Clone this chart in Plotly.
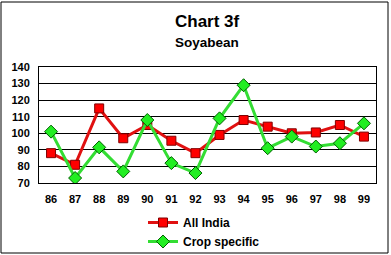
import plotly.graph_objects as go

years = ["86", "87", "88", "89", "90", "91", "92", "93", "94", "95", "96", "97", "98", "99"]
all_india = [88, 81, 115, 97, 105, 95.5, 88, 99, 108, 104, 100, 100.5, 105, 98]
crop_specific = [101, 73, 91.5, 77, 108, 82, 76, 109, 129, 91, 98, 92, 94, 106]
y_ticks = [70, 80, 90, 100, 110, 120, 130, 140]

W, H = 391, 255
L, R, T, B = 39, 15, 67, 72
pw, ph = W - L - R, H - T - B
FONT = "Liberation Sans, Arial"

fig = go.Figure()
fig.add_trace(go.Scatter(
    x=years, y=all_india, name="All India", mode="lines+markers",
    line=dict(color="#e01010", width=3),
    marker=dict(symbol="square", size=9, color="#ff0000", line=dict(color="#800000", width=1)),
))
fig.add_trace(go.Scatter(
    x=years, y=crop_specific, name="Crop specific", mode="lines+markers",
    line=dict(color="#33dd33", width=3),
    marker=dict(symbol="diamond", size=10, color="#22ee22", line=dict(color="#006000", width=1)),
))

def px_x(x):
    return (x - L) / pw

def px_y(y):
    return (H - B - y) / ph

# outer border
fig.add_shape(type="rect", xref="paper", yref="paper",
              x0=px_x(1), x1=px_x(388), y0=px_y(253), y1=px_y(2),
              line=dict(color="black", width=1), fillcolor="rgba(0,0,0,0)")

fig.add_annotation(text="Chart 3f", xref="paper", yref="paper", x=px_x(207), y=px_y(22),
                   xanchor="center", yanchor="middle", showarrow=False,
                   font=dict(size=17, family=FONT, color="black", weight="bold"))
fig.add_annotation(text="Soyabean", xref="paper", yref="paper", x=px_x(207), y=px_y(42),
                   xanchor="center", yanchor="middle", showarrow=False,
                   font=dict(size=13.5, family=FONT, color="black", weight="bold"))

fig.update_layout(
    width=W, height=H,
    margin=dict(l=L, r=R, t=T, b=B, pad=0, autoexpand=False),
    paper_bgcolor="white", plot_bgcolor="white",
    font=dict(family=FONT, color="black", size=11),
    xaxis=dict(
        type="category", range=[-0.5, 13.5], showgrid=False, automargin=False,
        showline=True, linecolor="black", linewidth=1, mirror=True,
        ticks="", tickfont=dict(size=11, family=FONT, color="black", weight="bold"),
        ticklabelstandoff=6,
    ),
    yaxis=dict(
        range=[70, 140], tickvals=y_ticks, showgrid=True, gridcolor="black", gridwidth=1,
        showline=True, linecolor="black", linewidth=1, mirror=True, zeroline=False,
        automargin=False,
        ticks="", tickfont=dict(size=11, family=FONT, color="black", weight="bold"),
        ticklabelstandoff=6,
    ),
    showlegend=True,
    legend=dict(
        orientation="v", x=px_x(143), xanchor="left", y=px_y(208), yanchor="top",
        font=dict(size=12, family=FONT, color="black", weight="bold"),
        itemwidth=30, tracegroupgap=0, bgcolor="rgba(0,0,0,0)",
    ),
)

fig.write_html("out.html")
